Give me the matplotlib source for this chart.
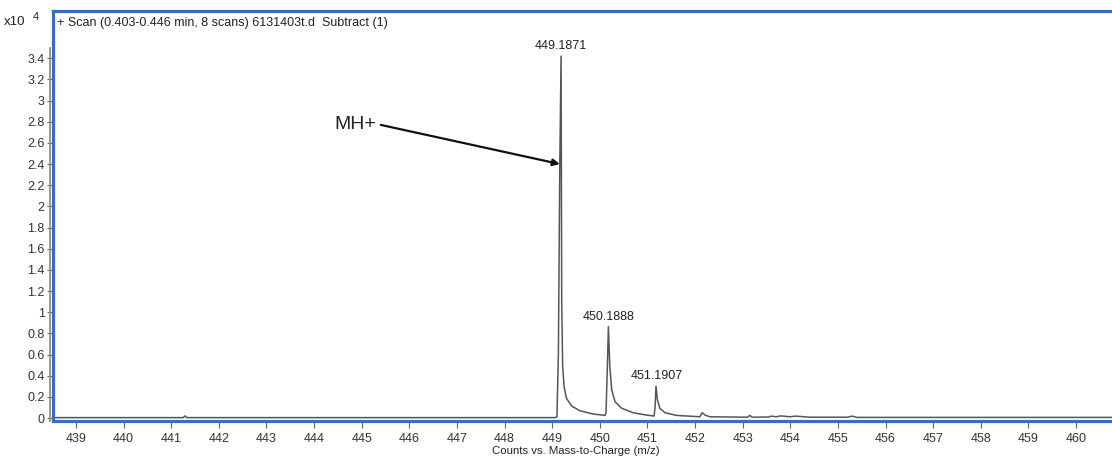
import matplotlib.pyplot as plt
from matplotlib.lines import Line2D

plt.rcParams['font.family'] = ['Liberation Sans', 'DejaVu Sans']

# profile spectrum (m/z, counts x10^4)
mz = [438.5, 441.25, 441.29, 441.33, 449.05, 449.10, 449.13, 449.16, 449.187,
      449.20, 449.22, 449.25, 449.30, 449.41, 449.58, 449.86, 450.11, 450.13,
      450.16, 450.18, 450.21, 450.25, 450.32, 450.46, 450.70, 450.98, 451.14,
      451.16, 451.18, 451.21, 451.26, 451.37, 451.61, 452.10, 452.15, 452.21,
      452.31, 453.10, 453.15, 453.20, 453.55, 453.6, 453.7, 453.8, 454.0,
      454.1, 454.3, 454.4, 455.2, 455.3, 455.4, 461.0]
counts = [0.004, 0.004, 0.02, 0.004, 0.004, 0.01, 0.6, 2.4, 3.42,
          1.1, 0.485, 0.296, 0.186, 0.113, 0.069, 0.038, 0.025, 0.05,
          0.5, 0.863, 0.485, 0.265, 0.154, 0.092, 0.05, 0.028, 0.019,
          0.1, 0.302, 0.17, 0.092, 0.05, 0.025, 0.012, 0.05, 0.028,
          0.012, 0.008, 0.025, 0.008, 0.01, 0.018, 0.012, 0.02, 0.012,
          0.018, 0.012, 0.008, 0.008, 0.018, 0.006, 0.006]

peak_mz = [449.1871, 450.1888, 451.1907]
peak_counts = [3.42, 0.863, 0.302]
peak_labels = ['449.1871', '450.1888', '451.1907']

xticks = list(range(439, 461))
yticks = [0, 0.2, 0.4, 0.6, 0.8, 1, 1.2, 1.4, 1.6, 1.8, 2, 2.2, 2.4, 2.6, 2.8, 3, 3.2, 3.4]
ytick_labels = ['0', '0.2', '0.4', '0.6', '0.8', '1', '1.2', '1.4', '1.6', '1.8',
                '2', '2.2', '2.4', '2.6', '2.8', '3', '3.2', '3.4']

W, H = 1112, 457
fig = plt.figure(figsize=(W / 100, H / 100), dpi=100)
ax = fig.add_axes([53 / W, (H - 421) / H, (W - 53) / W, (421 - 10.5) / H])

ax.plot(mz, counts, color='#555555', lw=1.1)
ax.set_xlim(438.517, 460.756)
ax.set_ylim(-0.028, 3.851)

blue = '#3a6cc4'
for s in ['left', 'top', 'bottom']:
    ax.spines[s].set_color(blue)
    ax.spines[s].set_linewidth(2.3)
ax.spines['right'].set_visible(False)

ax.set_xticks(xticks)
ax.set_xticklabels([str(t) for t in xticks])
ax.set_yticks(yticks)
ax.set_yticklabels(ytick_labels)
ax.tick_params(axis='both', color='#666666', labelcolor='#333333',
               length=4, width=0.8)
ax.tick_params(axis='x', pad=3.5, labelsize=9, length=5)
ax.tick_params(axis='y', pad=2, labelsize=9)

# gray y axis line left of the blue frame
fig.add_artist(Line2D([50 / W, 50 / W], [(H - 421) / H, (H - 48) / H],
                      color='#888888', lw=1.2))

for x, y, lab in zip(peak_mz, peak_counts, peak_labels):
    ax.annotate(lab, (x, y), xytext=(0, 3), textcoords='offset points',
                ha='center', va='bottom', fontsize=9, color='#222222')

ax.annotate('', xy=(449.16, 2.4), xytext=(445.4, 2.77),
            arrowprops=dict(arrowstyle='-|>', color='#111111', lw=1.6,
                            mutation_scale=10, shrinkA=0, shrinkB=0))
ax.text(445.3, 2.77, 'MH+', fontsize=14, ha='right', va='center', color='#222222')

ax.text(0.004, 0.985, '+ Scan (0.403-0.446 min, 8 scans) 6131403t.d  Subtract (1)',
        transform=ax.transAxes, fontsize=9, va='top', ha='left', color='#222222')
fig.text(4 / W, 1 - 22 / H, 'x10', fontsize=9.5, va='center', ha='left', color='#222222')
fig.text(33 / W, 1 - 17 / H, '4', fontsize=8, va='center', ha='left', color='#222222')

fig.text(576 / W, 1 - 451 / H, 'Counts vs. Mass-to-Charge (m/z)', fontsize=8.2,
         ha='center', va='center', color='#222222')

fig.savefig('out.png', dpi=100)
